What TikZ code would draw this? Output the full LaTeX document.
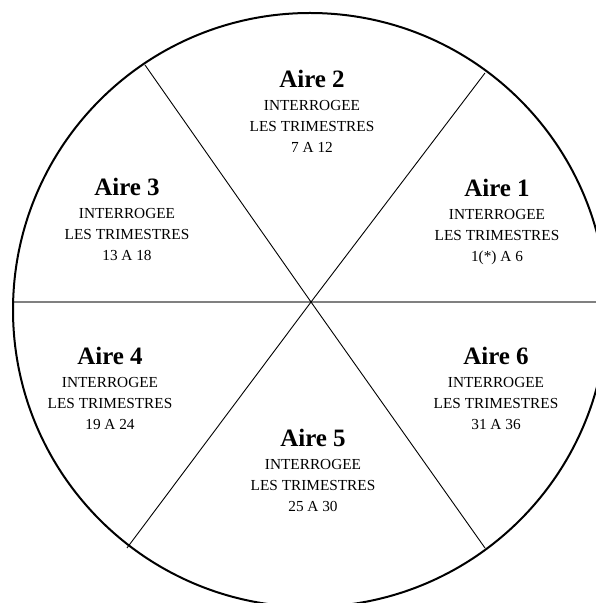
\documentclass[tikz,border=0pt]{standalone}
\usepackage{fontspec}
\setmainfont{Liberation Serif}
\tikzset{
  x=1pt,y=1pt,
  rim/.style={line width=2pt,draw=black},
  spoke/.style={line width=0.9pt,draw=black},
  hline/.style={line width=2pt,draw=black!50},
  ttl/.style={anchor=base,inner sep=0pt,font=\fontsize{25}{28}\selectfont\bfseries},
  txt/.style={anchor=base,inner sep=0pt,font=\fontsize{15.3}{17}\selectfont},
}
\newcommand{\airelabel}[5]{%
  \node[ttl] (#1t) at (#2,#3) {#4};
  \node[txt] (#1a) at (#2,#3-23) {INTERROGEE};
  \node[txt] (#1b) at (#2,#3-44) {LES TRIMESTRES};
  \node[txt] (#1c) at (#2,#3-65) {#5};
}
\begin{document}
\begin{tikzpicture}
\useasboundingbox (0,0) rectangle (596,603);
\clip (0,0) rectangle (596,603);
\fill[white] (0,0) rectangle (596,603);
\coordinate (O) at (310,293);
\coordinate (X) at (311,301);
\coordinate (ul) at (145,538);
\coordinate (ur) at (485,530);
\coordinate (ll) at (127,55);
\coordinate (lr) at (485,55);
\coordinate (hl) at (13,301);
\coordinate (hr) at (607,301);
\draw[hline] (hl) -- (hr);
\draw[spoke] (ul) -- (X) -- (lr);
\draw[spoke] (ur) -- (X) -- (ll);
\draw[rim] (O) circle[radius=297];
\airelabel{a1}{497}{406}{Aire 1}{1(*) A 6}
\airelabel{a2}{312}{515}{Aire 2}{7 A 12}
\airelabel{a3}{127}{407}{Aire 3}{13 A 18}
\airelabel{a4}{110}{238}{Aire 4}{19 A 24}
\airelabel{a5}{313}{156}{Aire 5}{25 A 30}
\airelabel{a6}{496}{238}{Aire 6}{31 A 36}
\end{tikzpicture}
\end{document}
